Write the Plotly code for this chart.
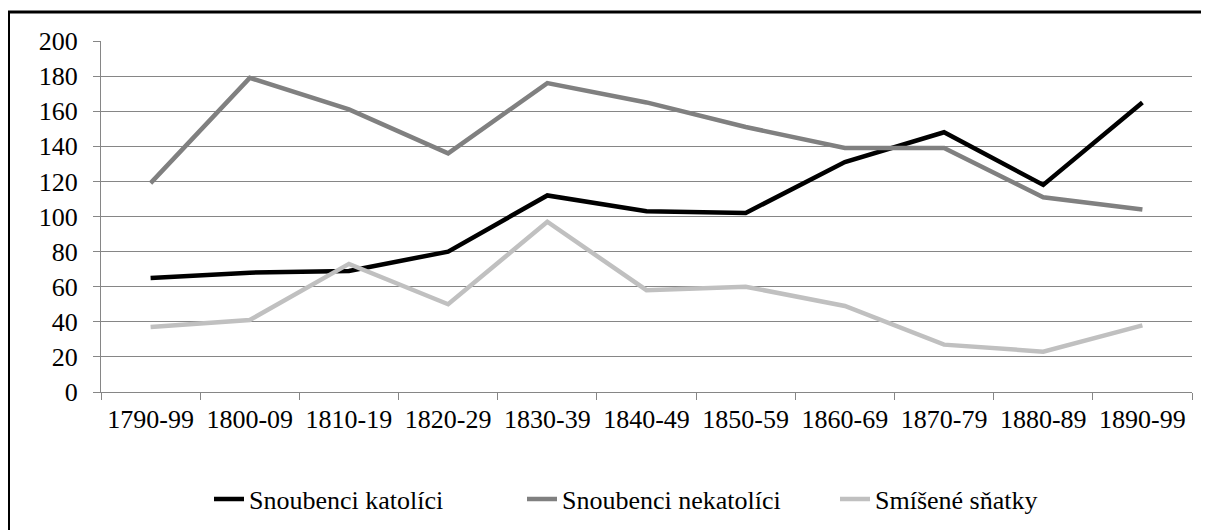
import plotly.graph_objects as go

categories = ["1790-99", "1800-09", "1810-19", "1820-29", "1830-39", "1840-49",
              "1850-59", "1860-69", "1870-79", "1880-89", "1890-99"]
katolici = [65, 68, 69, 80, 112, 103, 102, 131, 148, 118, 165]
nekatolici = [119, 179, 161, 136, 176, 165, 151, 139, 139, 111, 104]
smisene = [37, 41, 73, 50, 97, 58, 60, 49, 27, 23, 38]
y_ticks = list(range(0, 201, 20))

FONT = "Tinos"
OFF = 8  # page body margin
W, H = 1209 - OFF, 530 - OFF
ML, MT = 101 - OFF, 41 - OFF
MR = W - (1192 - OFF)
MB = H - (392 - OFF)
PW, PH = W - ML - MR, H - MT - MB

fig = go.Figure()
for name, vals, col in [("Snoubenci katolíci", katolici, "#000000"),
                        ("Snoubenci nekatolíci", nekatolici, "#808080"),
                        ("Smíšené sňatky", smisene, "#C0C0C0")]:
    fig.add_trace(go.Scatter(x=categories, y=vals, mode="lines", name=name,
                             line=dict(color=col, width=4.5)))

def px_x(p):
    return (p - OFF - ML) / PW

def px_y(p):
    return (H + OFF - MB - p) / PH

fig.update_layout(
    width=W, height=H,
    margin=dict(l=ML, r=MR, t=MT, b=MB, autoexpand=False),
    paper_bgcolor="white", plot_bgcolor="white",
    font=dict(family=FONT, size=26, color="#000000"),
    xaxis=dict(type="category", showgrid=False, showline=True, linecolor="#868686",
               linewidth=1.3, ticks="outside", tickson="boundaries", ticklen=7,
               tickcolor="#868686", tickwidth=1.3, range=[-0.5, 10.5], tickangle=0,
               tickfont=dict(family=FONT, size=26), ticklabelstandoff=4,
               automargin=False),
    yaxis=dict(range=[0, 200], tickvals=y_ticks, showgrid=True, gridcolor="#868686",
               gridwidth=1.3, showline=True, linecolor="#868686", linewidth=1.3,
               ticks="outside", ticklen=7, tickcolor="#868686", tickwidth=1.3,
               zeroline=False, tickfont=dict(family=FONT, size=26),
               ticklabelstandoff=10, automargin=False),
    legend=dict(orientation="h", x=px_x(209), xanchor="left", y=px_y(499), yanchor="middle",
                font=dict(family=FONT, size=26),
                entrywidth=268, entrywidthmode="pixels",
                bgcolor="rgba(0,0,0,0)", tracegroupgap=0),
    showlegend=True,
    shapes=[dict(type="rect", xref="paper", yref="paper",
                 x0=px_x(8.5), x1=px_x(1215), y0=px_y(540), y1=px_y(12),
                 line=dict(color="#000000", width=3), fillcolor="rgba(0,0,0,0)",
                 layer="above")],
)

fig.write_html("out.html")
